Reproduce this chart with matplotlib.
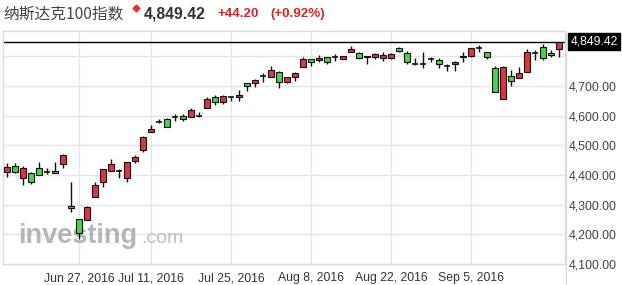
import matplotlib
matplotlib.use("Agg")
import matplotlib.pyplot as plt
import numpy as np
import pandas as pd
from matplotlib.lines import Line2D

# ---- data ----
dates = pd.bdate_range("2016-06-14", "2016-09-21", freq="C",
                       holidays=["2016-07-04", "2016-09-05"])
opens = [4412, 4432, 4389, 4408, 4423, 4412, 4414, 4438, 4296, 4252,
         4249, 4326, 4378, 4414, 4414, 4390, 4449, 4483, 4545, 4580,
         4589, 4595, 4600, 4595, 4600, 4627, 4662, 4648, 4662, 4662,
         4710, 4710, 4734, 4732, 4748, 4715, 4730, 4766, 4791, 4788,
         4797, 4797, 4791, 4814, 4811, 4797, 4797, 4796, 4796, 4830,
         4811, 4775, 4774, 4791, 4788, 4769, 4774, 4803, 4803, 4830,
         4814, 4760, 4656, 4735, 4727, 4749, 4813, 4831, 4813, 4825]
highs = [4440, 4440, 4429, 4412, 4445, 4423, 4445, 4470, 4375, 4252,
         4294, 4378, 4420, 4455, 4421, 4445, 4468, 4533, 4569, 4589,
         4592, 4605, 4606, 4625, 4614, 4665, 4670, 4670, 4665, 4687,
         4712, 4724, 4743, 4768, 4751, 4732, 4747, 4797, 4791, 4805,
         4797, 4808, 4803, 4835, 4816, 4803, 4811, 4816, 4811, 4833,
         4819, 4794, 4814, 4799, 4794, 4774, 4785, 4816, 4828, 4839,
         4814, 4769, 4769, 4755, 4766, 4825, 4822, 4842, 4822, 4849.42]
lows = [4395, 4406, 4367, 4369, 4401, 4403, 4406, 4423, 4277, 4184,
        4249, 4326, 4361, 4414, 4390, 4378, 4442, 4479, 4545, 4575,
        4563, 4584, 4583, 4595, 4595, 4627, 4637, 4639, 4651, 4651,
        4685, 4698, 4715, 4732, 4693, 4712, 4718, 4764, 4769, 4782,
        4774, 4786, 4791, 4814, 4792, 4775, 4792, 4786, 4792, 4816,
        4775, 4771, 4760, 4782, 4760, 4751, 4752, 4782, 4797, 4814,
        4792, 4679, 4656, 4702, 4727, 4749, 4788, 4788, 4797, 4799]
closes = [4428, 4410, 4423, 4376, 4401, 4412, 4407, 4468, 4288, 4204,
          4292, 4367, 4420, 4437, 4414, 4445, 4462, 4530, 4556, 4580,
          4563, 4595, 4588, 4620, 4600, 4656, 4646, 4667, 4662, 4670,
          4702, 4721, 4734, 4755, 4715, 4732, 4743, 4792, 4783, 4796,
          4780, 4797, 4803, 4825, 4794, 4803, 4808, 4805, 4807, 4819,
          4780, 4775, 4774, 4791, 4774, 4769, 4780, 4797, 4828, 4830,
          4799, 4679, 4764, 4718, 4743, 4816, 4813, 4794, 4805, 4849.42]
tick_dates = ["2016-06-27", "2016-07-11", "2016-07-25", "2016-08-08",
              "2016-08-22", "2016-09-05"]
tick_labels = ["Jun 27, 2016", "Jul 11, 2016", "Jul 25, 2016",
               "Aug 8, 2016", "Aug 22, 2016", "Sep 5, 2016"]
y_ticks = [4100, 4200, 4300, 4400, 4500, 4600, 4700]
title = "纳斯达克100指数"
last_price = "4,849.42"
change = "+44.20"
change_pct = "(+0.92%)"
last_value = 4849.42

# ---- figure ----
W, H = 622, 285
fig = plt.figure(figsize=(W / 100, H / 100), dpi=100)
ax = fig.add_axes([3 / W, 1 - 264 / H, (565 - 3) / W, (264 - 31) / H])

x = np.arange(len(dates))
o = np.array(opens, float); c = np.array(closes, float)
h = np.array(highs, float); l = np.array(lows, float)
up = c > o
down = c < o
flat = c == o
bw = 0.72
red = "#d9363e"
green = "#49d24a"

ax.vlines(x, l, h, color="#111111", lw=1, zorder=3)
ax.bar(x[up], (c - o)[up], bottom=o[up], width=bw, color=red,
       edgecolor="#111111", linewidth=0.8, zorder=4)
ax.bar(x[down], (o - c)[down], bottom=c[down], width=bw, color=green,
       edgecolor="#111111", linewidth=0.8, zorder=4)
ax.hlines(o[flat], x[flat] - bw / 2, x[flat] + bw / 2, color="#111111",
          lw=1.2, zorder=4)

ax.set_xlim(-0.5, 69.75)
ax.set_ylim(4100, 4886)

# gridlines
tick_pos = [int(np.searchsorted(dates.values, np.datetime64(d))) for d in tick_dates]
for tp in tick_pos:
    ax.axvline(tp, color="#e4e4e4", lw=1, zorder=0)
for yt in y_ticks + [4800]:
    ax.axhline(yt, color="#e4e4e4", lw=1, zorder=0)
ax.axhline(last_value, color="#000000", lw=1, zorder=2)

ax.set_xticks(tick_pos)
ax.set_xticklabels(tick_labels, fontsize=8.8, color="#333333",
                   family="Liberation Sans")
ax.tick_params(axis="x", length=0, pad=6)
ax.yaxis.tick_right()
ax.set_yticks(y_ticks)
ax.set_yticklabels([f"{v:,.2f}" for v in y_ticks], fontsize=8.9,
                   color="#444444", family="Liberation Sans")
ax.tick_params(axis="y", length=0, pad=3)
for s in ax.spines.values():
    s.set_color("#dcdcdc")
    s.set_linewidth(1)
# right border continues to the bottom of the figure
fig.add_artist(Line2D([566 / W, 566 / W], [0, 1 - 31 / H], color="#dcdcdc",
                      lw=1, transform=fig.transFigure))

# current price box
ax.annotate(last_price, xy=(1.0, last_value), xycoords=("axes fraction", "data"),
            xytext=(4, 0), textcoords="offset points", ha="left", va="center",
            fontsize=8.8, color="white", family="Liberation Sans",
            bbox=dict(boxstyle="square,pad=0.2", fc="black", ec="black"),
            annotation_clip=False)

# watermark
ax.text(0.027, 0.09, "investing", transform=ax.transAxes, fontsize=19.5,
        fontweight="bold", color="#a8a8a8", alpha=0.85, family="Liberation Sans",
        ha="left", va="baseline", zorder=1)
ax.text(0.246, 0.09, ".com", transform=ax.transAxes, fontsize=14,
        color="#b4b4b4", alpha=0.85, family="Liberation Sans",
        ha="left", va="baseline", zorder=1)

# header
fig.text(3 / W, 1 - 14 / H, title, fontsize=11.3, color="#444444",
         family=["Noto Sans CJK SC", "DejaVu Sans"], ha="left", va="center")
fig.add_artist(Line2D([136 / W], [1 - 8 / H], marker="D", markersize=3.5,
                      color="#e03030", transform=fig.transFigure))
fig.text(144 / W, 1 - 14 / H, last_price, fontsize=11.3, fontweight="bold",
         color="#333333", family="Liberation Sans", ha="left", va="center")
fig.text(217 / W, 1 - 14 / H, change, fontsize=9.6, fontweight="bold",
         color="#dd2222", family="Liberation Sans", ha="left", va="center")
fig.text(270 / W, 1 - 14 / H, change_pct, fontsize=9.6, fontweight="bold",
         color="#dd2222", family="Liberation Sans", ha="left", va="center")

fig.savefig("out.png", dpi=100)
